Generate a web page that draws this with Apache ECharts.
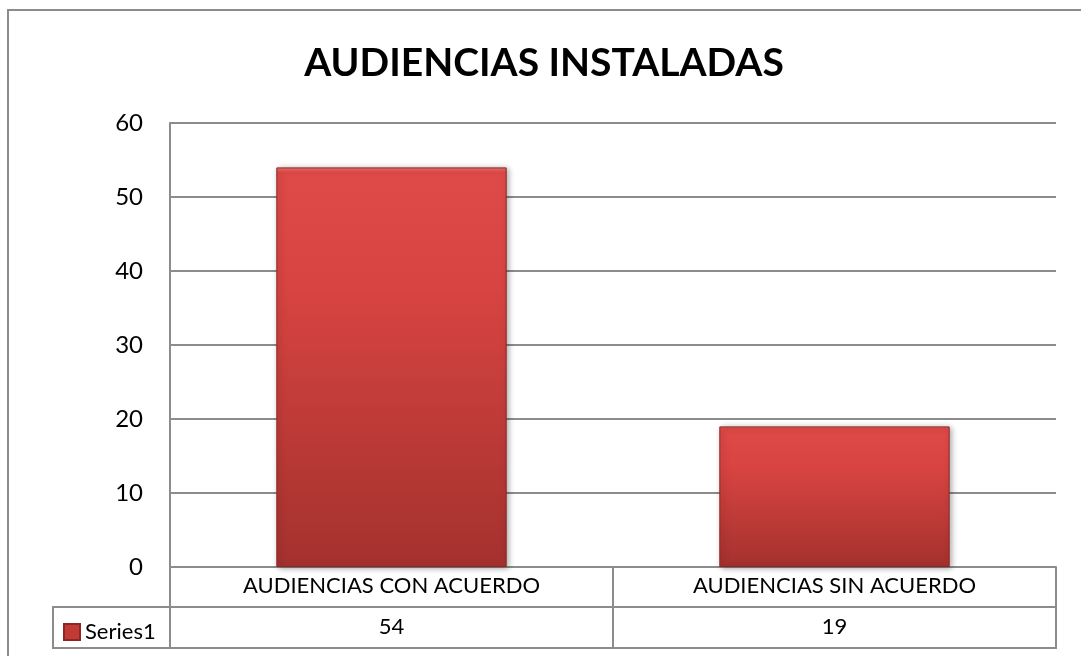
<!DOCTYPE html>
<html>
<head>
<meta charset="utf-8">
<script src="https://cdn.jsdelivr.net/npm/echarts@6/dist/echarts.min.js"></script>
<style>
  html, body { margin: 0; padding: 0; background: #fff; overflow: hidden; }
  #chart { width: 1081px; height: 656px; }
</style>
</head>
<body>
<div id="chart"></div>
<script>
  const titleText = 'AUDIENCIAS INSTALADAS';
  const categories = ['AUDIENCIAS CON ACUERDO', 'AUDIENCIAS SIN ACUERDO'];
  const seriesName = 'Series1';
  const values = [54, 19];
  const yTicks = [0, 10, 20, 30, 40, 50, 60];

  const font = 'Lato, "Liberation Sans", sans-serif';
  const lineColor = '#8c8c8c';

  // grid layout (pixels)
  const gridLeft = 170, gridRight = 1056, gridTop = 123, gridBottom = 567;
  const rowMid = 607, tableBottom = 648, tableLeft = 53;

  const chart = echarts.init(document.getElementById('chart'));

  const barColor = new echarts.graphic.LinearGradient(0, 0, 0, 1, [
    { offset: 0, color: '#f07470' },
    { offset: 0.012, color: '#de4a47' },
    { offset: 0.3, color: '#d74441' },
    { offset: 1, color: '#a4312e' },
  ]);

  let option = {
    animation: false,
    textStyle: { fontFamily: font },
    title: {
      text: titleText,
      left: 539,
      top: 39,
      textAlign: 'center',
      textStyle: { fontFamily: font, fontSize: 39, fontWeight: 'bold', color: '#000' },
    },
    legend: {
      data: [{ name: seriesName, itemStyle: { color: '#c03a36' } }],
      left: 63,
      top: 621,
      padding: 0,
      icon: 'rect',
      itemWidth: 16,
      itemHeight: 16,
      itemGap: 6,
      textStyle: { fontFamily: font, fontSize: 22, color: '#000' },
    },
    grid: {
      left: gridLeft,
      right: 1081 - gridRight,
      top: gridTop,
      bottom: 656 - gridBottom,
      containLabel: false,
    },
    xAxis: {
      type: 'category',
      data: categories,
      axisLine: { show: true, lineStyle: { color: lineColor, width: 2 } },
      axisTick: { show: true, length: tableBottom - gridBottom, lineStyle: { color: lineColor, width: 2 } },
      axisLabel: {
        interval: 0,
        margin: 0,
        // data table: category name, then its value
        formatter: (value, idx) => `{cat|${value}}\n{num|${values[idx]}}`,
        rich: {
          cat: { fontFamily: font, fontSize: 22, color: '#000', lineHeight: 38 },
          num: { fontFamily: font, fontSize: 22, color: '#000', lineHeight: 44 },
        },
      },
    },
    yAxis: {
      type: 'value',
      min: 0,
      max: 60,
      interval: 10,
      axisLine: { show: true, lineStyle: { color: lineColor, width: 2 } },
      axisTick: { show: false },
      splitLine: { lineStyle: { color: lineColor, width: 2 } },
      axisLabel: {
        margin: 27,
        fontFamily: font,
        fontSize: 24,
        color: '#000',
        formatter: (v) => (yTicks.includes(v) ? String(v) : ''),
      },
    },
    series: [
      {
        name: seriesName,
        type: 'bar',
        data: values,
        barCategoryGap: '48%',
        itemStyle: {
          color: barColor,
          borderColor: '#8e2724',
          borderWidth: 1,
          shadowColor: 'rgba(0,0,0,0.35)',
          shadowBlur: 6,
          shadowOffsetX: 2,
          shadowOffsetY: 1,
        },
      },
    ],
    graphic: [
      // outer chart border
      {
        type: 'rect',
        z: 100,
        shape: { x: 8, y: 10, width: 1200, height: 800 },
        style: { fill: 'none', stroke: lineColor, lineWidth: 2 },
        silent: true,
      },
      // data table lines
      {
        type: 'rect',
        z: 100,
        shape: { x: tableLeft - 1, y: rowMid - 1, width: gridRight - tableLeft + 2, height: 2 },
        style: { fill: lineColor },
        silent: true,
      },
      {
        type: 'rect',
        z: 100,
        shape: { x: tableLeft - 1, y: tableBottom - 1, width: gridRight - tableLeft + 2, height: 2 },
        style: { fill: lineColor },
        silent: true,
      },
      {
        type: 'rect',
        z: 100,
        shape: { x: tableLeft - 1, y: rowMid - 1, width: 2, height: tableBottom - rowMid + 2 },
        style: { fill: lineColor },
        silent: true,
      },
    ],
  };

  option && chart.setOption(option);
</script>
</body>
</html>
